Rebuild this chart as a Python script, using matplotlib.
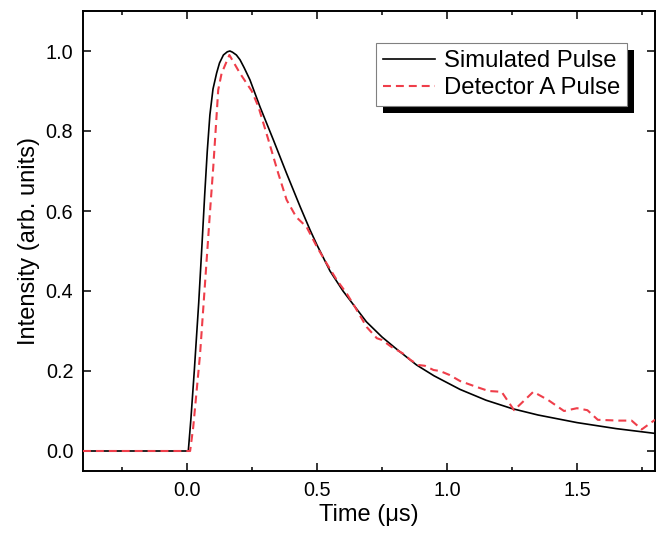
import matplotlib
matplotlib.use("Agg")
import matplotlib.pyplot as plt
from matplotlib.patches import Rectangle
from matplotlib.transforms import IdentityTransform
from matplotlib.ticker import MultipleLocator

# ---- data ----
sim_t = [-0.4, 0.005, 0.015, 0.028, 0.045, 0.058, 0.068, 0.078, 0.088, 0.10, 0.114,
         0.125, 0.14, 0.155, 0.165, 0.175, 0.19, 0.204, 0.22, 0.242, 0.281, 0.332,
         0.383, 0.435, 0.473, 0.50, 0.55, 0.60, 0.69, 0.75, 0.80, 0.883, 0.95, 1.05,
         1.15, 1.25, 1.35, 1.50, 1.65, 1.80]
sim_y = [0.0, 0.0, 0.08, 0.20, 0.37, 0.52, 0.64, 0.75, 0.84, 0.905, 0.945,
         0.97, 0.99, 0.998, 1.0, 0.997, 0.99, 0.978, 0.958, 0.928, 0.86, 0.778,
         0.694, 0.611, 0.553, 0.515, 0.45, 0.40, 0.323, 0.285, 0.258, 0.215, 0.188, 0.154,
         0.127, 0.106, 0.09, 0.071, 0.056, 0.044]

det_t = [-0.4, 0.012, 0.024, 0.05, 0.078, 0.088, 0.101, 0.112, 0.12, 0.133, 0.163,
         0.204, 0.249, 0.275, 0.313, 0.351, 0.383, 0.42, 0.46, 0.50, 0.537, 0.576,
         0.614, 0.646, 0.691, 0.73, 0.75, 0.787, 0.83, 0.86, 0.89, 0.915, 0.948, 0.973,
         1.01, 1.05, 1.11, 1.16, 1.21, 1.258, 1.332, 1.39, 1.45, 1.50, 1.54, 1.58,
         1.66, 1.71, 1.749, 1.80]
det_y = [0.0, 0.0, 0.06, 0.24, 0.50, 0.594, 0.71, 0.82, 0.9025, 0.944, 0.99,
         0.944, 0.90, 0.86, 0.778, 0.694, 0.628, 0.585, 0.56, 0.51, 0.469, 0.4275,
         0.394, 0.36, 0.31, 0.282, 0.2775, 0.26, 0.244, 0.2275, 0.215, 0.213, 0.2025, 0.20,
         0.19, 0.175, 0.161, 0.150, 0.148, 0.102, 0.148, 0.127, 0.100, 0.107, 0.102, 0.078,
         0.076, 0.076, 0.054, 0.078]

x_ticks = [0.0, 0.5, 1.0, 1.5]
y_ticks = [0.0, 0.2, 0.4, 0.6, 0.8, 1.0]
labels = ["Simulated Pulse", "Detector A Pulse"]

plt.rcParams['font.family'] = ['Liberation Sans', 'DejaVu Sans']

fig = plt.figure(figsize=(6.6, 5.33), dpi=100)
ax = fig.add_axes([83 / 660, 1 - 471 / 533, (655 - 83) / 660, (471 - 11) / 533])

ax.plot(sim_t, sim_y, color='black', lw=1.2, label=labels[0], zorder=3)
ax.plot(det_t, det_y, color='#EF3E4A', lw=1.5, dashes=(3.8, 2.4), label=labels[1], zorder=4)

ax.set_xlim(-0.4, 1.8)
ax.set_ylim(-0.05, 1.1)
ax.set_xticks(x_ticks)
ax.set_yticks(y_ticks)
ax.set_xticklabels([f"{v:.1f}" for v in x_ticks])
ax.set_yticklabels([f"{v:.1f}" for v in y_ticks])
ax.xaxis.set_minor_locator(MultipleLocator(0.25))

for s in ax.spines.values():
    s.set_linewidth(1.4)

ax.tick_params(axis='both', which='major', direction='in', length=6, width=1.1,
               labelsize=14.3, pad=7, top=True, right=True, colors='black')
ax.tick_params(axis='x', which='minor', direction='in', length=3, width=1.1,
               top=True, bottom=True)

ax.set_xlabel("Time (μs)", fontsize=17, labelpad=3)
ax.set_ylabel("Intensity (arb. units)", fontsize=17, labelpad=4)

leg = ax.legend(loc='upper right', bbox_to_anchor=((627 - 83) / 572, (471 - 43) / 460),
                borderaxespad=0, fontsize=17.2, frameon=True, fancybox=False,
                framealpha=1, edgecolor='#808080', borderpad=0.3, labelspacing=0.2,
                handlelength=2.2, handletextpad=0.35)
leg.get_frame().set_linewidth(0.8)

fig.canvas.draw()
bb = leg.get_window_extent()
shadow = Rectangle((bb.x0 + 7, bb.y0 - 7), bb.width, bb.height, transform=IdentityTransform(),
                   facecolor='black', edgecolor='none', zorder=4.9, clip_on=False)
ax.add_patch(shadow)

fig.savefig("out.png", dpi=100)
